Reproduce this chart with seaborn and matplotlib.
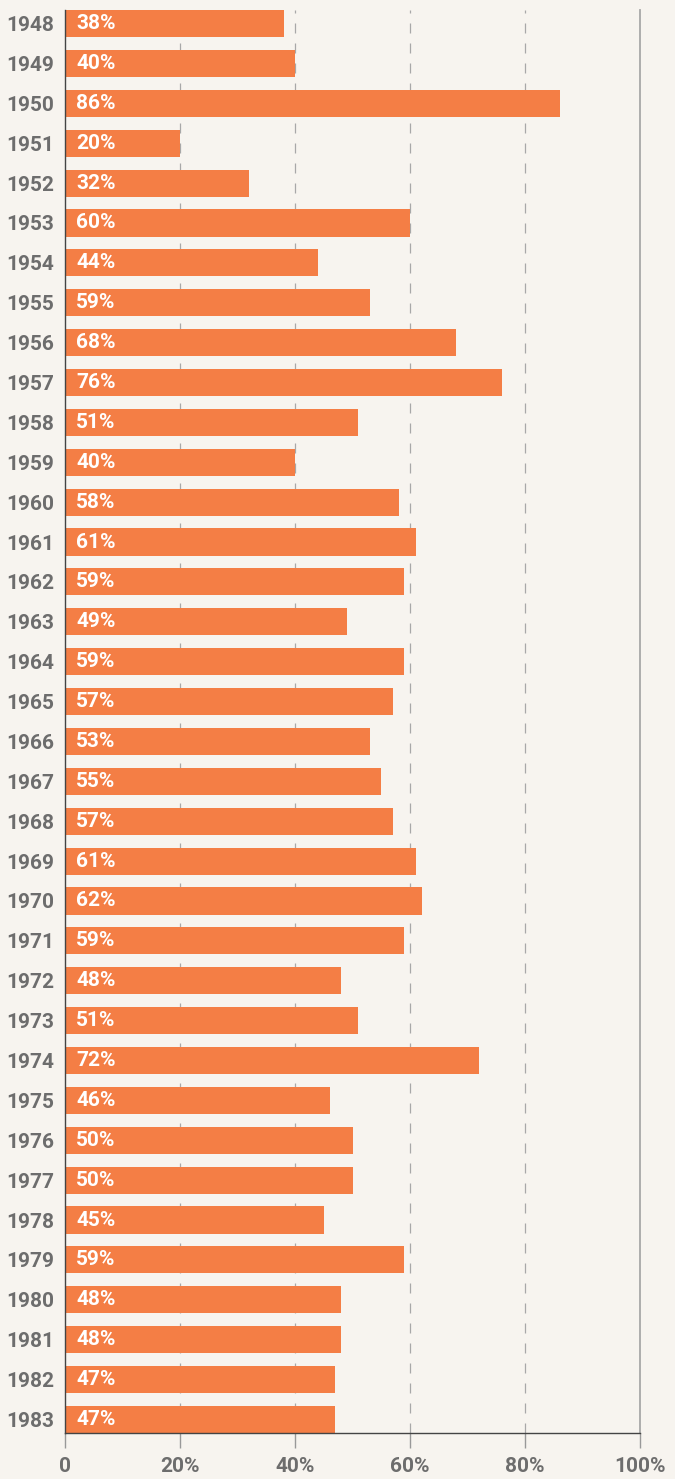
import matplotlib
matplotlib.use("Agg")
import matplotlib.pyplot as plt
import seaborn as sns
import pandas as pd

# Данные
years = [str(y) for y in range(1948, 1984)]
values = [38, 40, 86, 20, 32, 60, 44, 53, 68, 76, 51, 40, 58, 61, 59, 49, 59, 57,
          53, 55, 57, 61, 62, 59, 48, 51, 72, 46, 50, 50, 45, 59, 48, 48, 47, 47]
labels = ['38%', '40%', '86%', '20%', '32%', '60%', '44%', '59%', '68%', '76%', '51%', '40%',
          '58%', '61%', '59%', '49%', '59%', '57%', '53%', '55%', '57%', '61%', '62%', '59%',
          '48%', '51%', '72%', '46%', '50%', '50%', '45%', '59%', '48%', '48%', '47%', '47%']
x_ticks = [0, 20, 40, 60, 80, 100]
x_tick_labels = ['0', '20%', '40%', '60%', '80%', '100%']

df = pd.DataFrame({'year': years, 'value': values})

bg = '#f7f4ef'
bar_color = '#f47e45'
text_gray = '#6d6d6d'

sns.set_style('white')
plt.rcParams['font.family'] = ['Roboto', 'DejaVu Sans']
plt.rcParams['font.weight'] = 'bold'

fig = plt.figure(figsize=(6.75, 14.79), dpi=100, facecolor=bg)
ax = fig.add_axes([65 / 675, 1 - 1433 / 1479, 575 / 675, 1423 / 1479])
ax.set_facecolor(bg)

# пунктирная сетка под столбцами
for xv in [20, 40, 60, 80]:
    ax.axvline(xv, color='#a8a8a8', lw=0.9, ls=(0, (8, 8)), zorder=0)

sns.barplot(data=df, x='value', y='year', orient='h', color=bar_color,
            saturation=1, width=0.68, linewidth=0, ax=ax)
for p in ax.patches:
    p.set_zorder(2)

for i, lab in enumerate(labels):
    ax.annotate(lab, xy=(0, i), xytext=(8, 0), textcoords='offset points',
                va='center', ha='left', color='white', fontsize=15,
                fontweight='bold', zorder=3)

ax.set_xlim(0, 100)
ax.set_ylim(len(years) - 1 + 0.34, -0.34)
ax.set_xticks(x_ticks)
ax.set_xticklabels(x_tick_labels)
ax.set_xlabel('')
ax.set_ylabel('')

ax.tick_params(axis='y', length=0, pad=8, labelsize=15, labelcolor=text_gray)
ax.tick_params(axis='x', length=11, width=1, color='#999999', pad=6,
               labelsize=15, labelcolor=text_gray, bottom=True, direction='out')
for t in ax.get_xticklabels() + ax.get_yticklabels():
    t.set_fontweight('bold')

for side in ['left', 'bottom']:
    ax.spines[side].set_color('#444444')
    ax.spines[side].set_linewidth(1)
ax.spines['right'].set_color('#a8a8a8')
ax.spines['right'].set_linewidth(1.3)
ax.spines['top'].set_visible(False)

fig.savefig('out.png', dpi=100, facecolor=bg)
